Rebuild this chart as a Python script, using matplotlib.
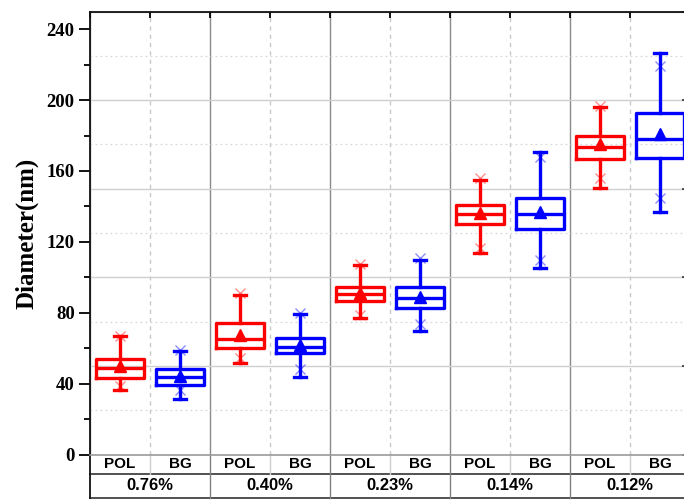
import matplotlib
matplotlib.use("Agg")
import matplotlib.pyplot as plt
import matplotlib.transforms as mtransforms
from matplotlib.ticker import MultipleLocator
import numpy as np

# ---------------- data ----------------
groups = ['0.76%', '0.40%', '0.23%', '0.14%', '0.12%']
series = ['POL', 'BG']
colors = ['#ff0000', '#0000ff']

pol_whishi = [67, 90, 107, 155, 196]
pol_p99 = [67, 91, 107.5, 156, 196.5]
pol_q3 = [54, 74, 94.5, 141, 179.5]
pol_med = [49, 65, 90.5, 135.5, 173.5]
pol_mean = [50, 67.5, 91, 136.5, 175]
pol_q1 = [43, 60, 86.5, 130, 167]
pol_p1 = [38.5, 54.5, 79, 116.5, 156]
pol_whislo = [36.5, 51.5, 77, 113.5, 150.5]

bg_whishi = [58.5, 79.5, 109.5, 170.5, 226.5]
bg_p99 = [59, 80, 111, 168, 219]
bg_q3 = [48.5, 66, 94.5, 145, 192.5]
bg_med = [44, 60.5, 88.5, 135.5, 178]
bg_mean = [44.5, 62, 89, 137, 181]
bg_q1 = [39.5, 57.5, 82.5, 127, 167.5]
bg_p1 = [36.5, 48, 73.5, 109.5, 144.5]
bg_whislo = [31.5, 44, 69.5, 105, 137]

data = {
    'POL': dict(whishi=pol_whishi, p99=pol_p99, q3=pol_q3, med=pol_med, mean=pol_mean,
                q1=pol_q1, p1=pol_p1, whislo=pol_whislo),
    'BG': dict(whishi=bg_whishi, p99=bg_p99, q3=bg_q3, med=bg_med, mean=bg_mean,
               q1=bg_q1, p1=bg_p1, whislo=bg_whislo),
}

yticks_left = [0, 40, 80, 120, 160, 200, 240]

# ---------------- figure ----------------
W, H = 684, 503
fig = plt.figure(figsize=(W / 100, H / 100), dpi=100)
fig.patch.set_facecolor('white')
ax_l, ax_b, ax_w, ax_h = 90 / W, 48.5 / H, 600 / W, 443 / H
ax2 = fig.add_axes([ax_l, ax_b, ax_w, ax_h])   # grid + right ticks
ax = fig.add_axes([ax_l, ax_b, ax_w, ax_h])
ax.patch.set_visible(False)

ng = len(groups)
ns = len(series)
ax.set_xlim(0, ng * ns)
ax.set_ylim(0, 250)
ax2.set_xlim(0, ng * ns)
ax2.set_ylim(0, 250)

# grid layer (right axis)
ax2.yaxis.set_major_locator(MultipleLocator(50))
ax2.yaxis.set_minor_locator(MultipleLocator(25))
ax2.yaxis.tick_right()
ax2.tick_params(axis='y', which='major', direction='in', length=6, width=1.2, color='#333333',
                labelright=False, labelleft=False)
ax2.tick_params(axis='y', which='minor', direction='in', length=0)
ax2.grid(True, axis='y', which='major', color='#cfcfcf', lw=1.0, ls='-')
ax2.grid(True, axis='y', which='minor', color='#d8d8d8', lw=0.9, ls=(0, (1.5, 2.5)))
ax2.xaxis.set_major_locator(MultipleLocator(2))
ax2.xaxis.set_minor_locator(MultipleLocator(1))
ax2.grid(True, axis='x', which='major', color='#8a8a8a', lw=1.0, ls='-')
ax2.grid(True, axis='x', which='minor', color='#c8c8c8', lw=1.0, ls=(0, (3, 3)))
ax2.tick_params(axis='x', which='both', bottom=False, top=False, labelbottom=False)
for s in ax2.spines.values():
    s.set_visible(False)

# boxes
for si, name in enumerate(series):
    d = data[name]
    stats = []
    for gi in range(ng):
        stats.append(dict(med=d['med'][gi], q1=d['q1'][gi], q3=d['q3'][gi],
                          whislo=d['whislo'][gi], whishi=d['whishi'][gi],
                          mean=d['mean'][gi], fliers=[]))
    pos = [gi * ns + si + 0.5 for gi in range(ng)]
    c = colors[si]
    ax.bxp(stats, positions=pos, widths=0.8, showmeans=True, showfliers=False,
           capwidths=0.2, manage_ticks=False,
           boxprops=dict(color=c, lw=2.4),
           whiskerprops=dict(color=c, lw=2.4),
           capprops=dict(color=c, lw=2.4),
           medianprops=dict(color=c, lw=2.4),
           meanprops=dict(marker='^', markerfacecolor=c, markeredgecolor=c, markersize=8.5))
    ax.plot(pos, d['p99'], ls='none', marker='x', color=c, alpha=0.45, markersize=7, mew=1.0)
    ax.plot(pos, d['p1'], ls='none', marker='x', color=c, alpha=0.45, markersize=7, mew=1.0)

# axes styling
ax.set_yticks(yticks_left)
ax.yaxis.set_minor_locator(MultipleLocator(20))
ax.tick_params(axis='y', which='major', direction='out', length=8, width=1.3, pad=3,
               labelsize=13.5)
ax.tick_params(axis='y', which='minor', direction='out', length=4.5, width=1.3)
ax.xaxis.set_major_locator(MultipleLocator(2))
ax.xaxis.set_minor_locator(MultipleLocator(1))
ax.tick_params(axis='x', which='both', bottom=False, top=True, labelbottom=False,
               direction='in', length=4, width=1.3)
for lab in ax.get_yticklabels():
    lab.set_fontfamily('Liberation Serif')
    lab.set_fontweight('bold')
for k in ['left', 'top', 'right']:
    ax.spines[k].set_color('#111111')
    ax.spines[k].set_linewidth(1.3)
ax.spines['bottom'].set_color('#9a9a9a')
ax.spines['bottom'].set_linewidth(1.2)

ax.set_ylabel('Diameter(nm)', fontfamily='Liberation Serif', fontweight='bold',
              fontsize=18, labelpad=6)

# ---------------- category table below ----------------
trans = mtransforms.blended_transform_factory(ax.transData, ax.transAxes)
r1 = -(474 - 454.5) / 443
r2 = -(498 - 454.5) / 443
xmax = ng * ns
# horizontal lines
ax.plot([0, xmax], [r1, r1], transform=trans, color='#333333', lw=1.2, clip_on=False)
ax.plot([0, xmax], [r2, r2], transform=trans, color='#333333', lw=1.2, clip_on=False)
# left border
ax.plot([0, 0], [0, r2], transform=trans, color='#111111', lw=1.3, clip_on=False)
# vertical separators
for gi in range(1, ng):
    x = gi * ns
    ax.plot([x, x], [0, r2], transform=trans, color='#808080', lw=1.0, clip_on=False)
for gi in range(ng):
    x = gi * ns + 1
    ax.plot([x, x], [0, r1], transform=trans, color='#cfcfcf', lw=1.0, clip_on=False)

for gi, g in enumerate(groups):
    for si, name in enumerate(series):
        ax.text(gi * ns + si + 0.5, (0 + r1) / 2, name, transform=trans, ha='center',
                va='center', fontfamily='Liberation Sans', fontweight='bold', fontsize=11)
    ax.text(gi * ns + ns / 2, (r1 + r2) / 2, g, transform=trans, ha='center', va='center',
            fontfamily='Liberation Sans', fontweight='bold', fontsize=12)

fig.savefig('out.png', dpi=100)
